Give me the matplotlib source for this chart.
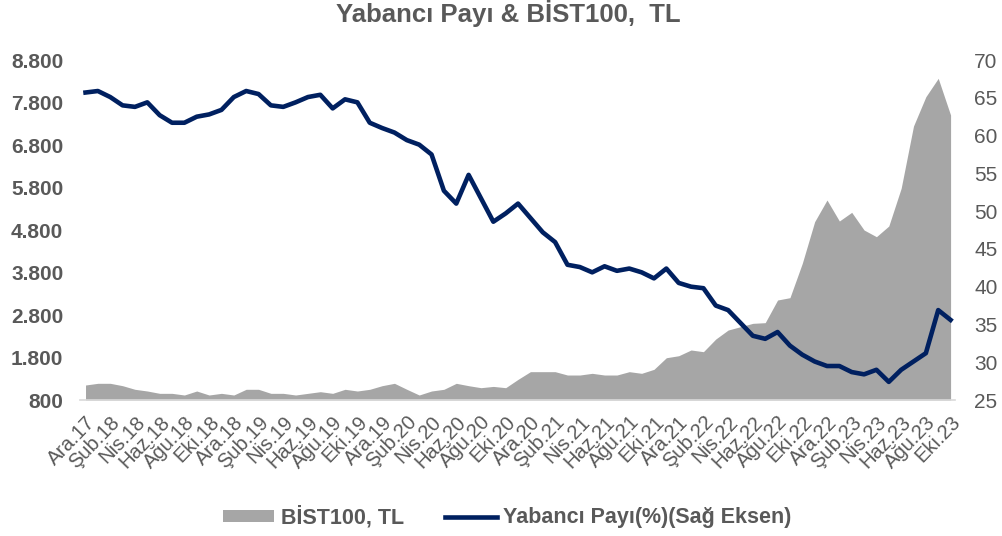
import numpy as np
import matplotlib.pyplot as plt
from matplotlib.ticker import FuncFormatter
from matplotlib.patches import Patch
from matplotlib.lines import Line2D

plt.rcParams['font.family'] = ['Liberation Sans', 'DejaVu Sans']

# Veriler (aylık, Ara.17 - Eki.23)
bist100 = [1153, 1193, 1193, 1137, 1052, 1012, 957, 957, 918, 1012,
           918, 957, 918, 1052, 1052, 957, 957, 918, 957, 996,
           957, 1052, 1012, 1052, 1137, 1193, 1052, 918, 1012, 1052,
           1193, 1137, 1090, 1120, 1090, 1286, 1467, 1467, 1467, 1388,
           1388, 1428, 1388, 1388, 1467, 1428, 1522, 1795, 1842, 1977,
           1937, 2235, 2447, 2525, 2604, 2620, 3153, 3208, 4016, 4996,
           5506, 5012, 5216, 4800, 4643, 4894, 5781, 7247, 7937, 8369,
           7506]
yabanci_payi = [65.7, 65.9, 65.1, 64.0, 63.8, 64.4, 62.7, 61.7, 61.7, 62.5,
                62.8, 63.4, 65.1, 65.9, 65.5, 64.0, 63.8, 64.4, 65.1, 65.4,
                63.6, 64.8, 64.4, 61.7, 61.0, 60.4, 59.4, 58.8, 57.5, 52.7,
                51.0, 54.8, 51.7, 48.6, 49.7, 51.0, 49.1, 47.2, 45.9, 42.9,
                42.6, 41.9, 42.7, 42.1, 42.4, 41.9, 41.1, 42.4, 40.5, 40.0,
                39.8, 37.5, 36.9, 35.2, 33.5, 33.1, 34.0, 32.2, 31.0, 30.1,
                29.5, 29.5, 28.7, 28.4, 29.0, 27.4, 29.0, 30.1, 31.2, 36.9,
                35.6]
ay_adlari = ['Oca', 'Şub', 'Mar', 'Nis', 'May', 'Haz',
             'Tem', 'Ağu', 'Eyl', 'Eki', 'Kas', 'Ara']
# her iki ayda bir etiket, Ara.17'den başlayarak
etiketler = []
for k in range(36):
    m = 11 + 2 * k
    etiketler.append(f"{ay_adlari[m % 12]}.{(17 + m // 12):02d}")

gri_yazi = '#595959'
alan_renk = '#A6A6A6'
cizgi_renk = '#002060'

x = np.arange(len(bist100))

fig = plt.figure(figsize=(10.02, 5.36), dpi=100)
ax = fig.add_axes([0.0798, 0.2537, 0.8732, 0.6343])
ax2 = ax.twinx()

ax.fill_between(x, 800, bist100, color=alan_renk, linewidth=0)
ax2.plot(x, yabanci_payi, color=cizgi_renk, linewidth=3.3, solid_joinstyle='round')

ax.set_xlim(-0.45, 70.35)
ax.set_ylim(800, 8800)
ax.set_yticks(np.arange(800, 8801, 1000))
ax.yaxis.set_major_formatter(FuncFormatter(lambda v, p: f"{v:,.0f}".replace(',', '.')))
ax2.set_ylim(25, 70)
ax2.set_yticks(np.arange(25, 71, 5))

ax.set_xticks(x[::2])
ax.set_xticklabels(etiketler, rotation=46, ha='right', rotation_mode='anchor',
                   fontsize=14.5, color=gri_yazi)

for a in (ax, ax2):
    for s in a.spines.values():
        s.set_visible(False)
ax.spines['bottom'].set_visible(True)
ax.spines['bottom'].set_color('#D9D9D9')
ax.spines['bottom'].set_linewidth(1.2)

ax.tick_params(axis='x', length=0, pad=9)
ax.tick_params(axis='y', length=0, pad=12, labelsize=15, labelcolor=gri_yazi)
for t in ax.get_yticklabels():
    t.set_fontweight('bold')
ax2.tick_params(axis='y', length=0, pad=14, labelsize=15, labelcolor=gri_yazi)

fig.text(0.507, 0.974, 'Yabancı Payı & BİST100,  TL', ha='center', va='center',
         fontsize=18.5, fontweight='bold', color=gri_yazi)

handles = [Patch(facecolor=alan_renk, edgecolor='none', label='BİST100, TL'),
           Line2D([], [], color=cizgi_renk, linewidth=3.3, label='Yabancı Payı(%)(Sağ Eksen)')]
leg = fig.legend(handles=handles, loc='center', bbox_to_anchor=(0.506, 0.035), ncol=2,
                 frameon=False, handlelength=2.4, handleheight=0.5, handletextpad=0.3,
                 columnspacing=1.9, prop={'weight': 'bold', 'size': 15.5})
for t in leg.get_texts():
    t.set_color(gri_yazi)

fig.savefig('out.png', dpi=100)
